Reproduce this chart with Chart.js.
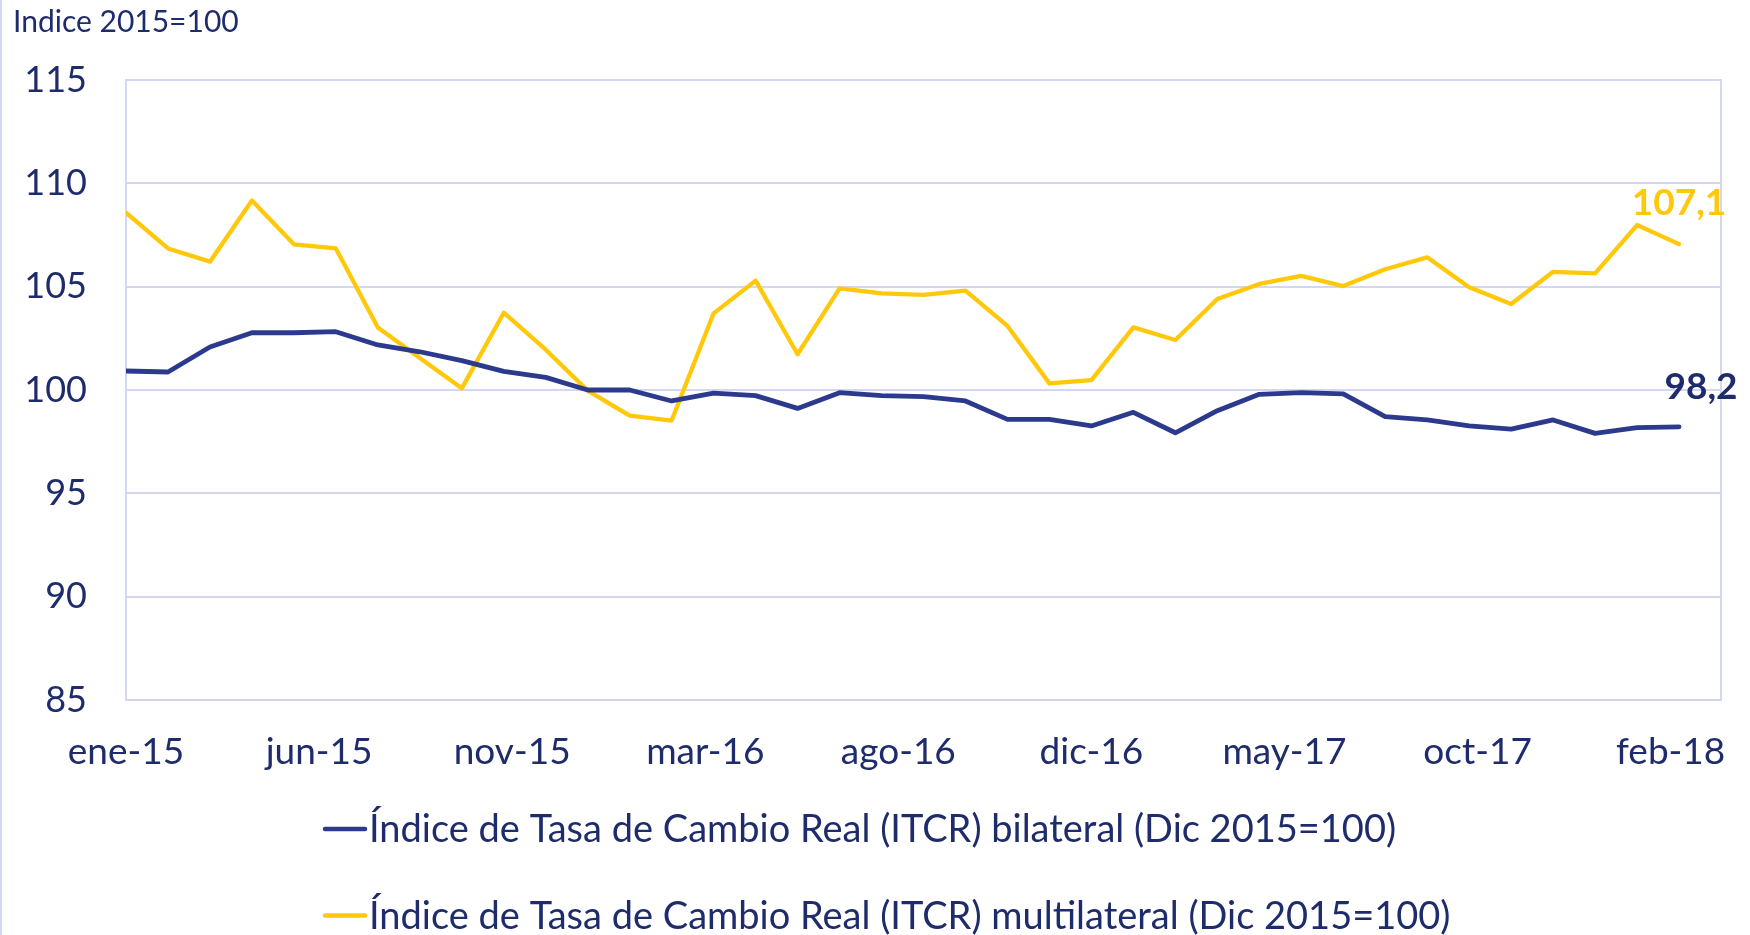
<!DOCTYPE html>
<html>
<head>
<meta charset="utf-8">
<script src="https://cdn.jsdelivr.net/npm/chart.js@4.4.1/dist/chart.umd.min.js"></script>
<style>
  html, body { margin: 0; padding: 0; background: #fff; }
  #wrap { position: relative; width: 1750px; height: 935px; }
</style>
</head>
<body>
<div id="wrap"><canvas id="chart"></canvas></div>
<script>
// monthly categories, ene-15 .. feb-18
const months = [
  'ene-15','feb-15','mar-15','abr-15','may-15','jun-15','jul-15','ago-15','sep-15','oct-15','nov-15','dic-15',
  'ene-16','feb-16','mar-16','abr-16','may-16','jun-16','jul-16','ago-16','sep-16','oct-16','nov-16','dic-16',
  'ene-17','feb-17','mar-17','abr-17','may-17','jun-17','jul-17','ago-17','sep-17','oct-17','nov-17','dic-17',
  'ene-18','feb-18'
];

const itcrBilateral = [
  100.92, 100.87, 102.08, 102.77, 102.77, 102.82, 102.18, 101.85, 101.42, 100.90, 100.61, 100.00,
  100.00, 99.47, 99.85, 99.73, 99.11, 99.87, 99.73, 99.68, 99.47, 98.58, 98.58, 98.26,
  98.92, 97.93, 99.00, 99.79, 99.87, 99.81, 98.71, 98.55, 98.26, 98.11, 98.55, 97.90,
  98.18, 98.22
];

const itcrMultilateral = [
  108.58, 106.85, 106.21, 109.17, 107.05, 106.85, 103.02, 101.55, 100.08, 103.74, 101.95, 99.97,
  98.76, 98.52, 103.71, 105.29, 101.73, 104.92, 104.68, 104.60, 104.81, 103.10, 100.32, 100.48,
  103.03, 102.42, 104.40, 105.13, 105.52, 105.03, 105.84, 106.42, 104.97, 104.16, 105.72, 105.64,
  107.98, 107.06
];

const seriesNames = [
  'Índice de Tasa de Cambio Real (ITCR) bilateral (Dic 2015=100)',
  'Índice de Tasa de Cambio Real (ITCR) multilateral (Dic 2015=100)'
];

const xTickLabels = ['ene-15','jun-15','nov-15','mar-16','ago-16','dic-16','may-17','oct-17','feb-18'];
const yTicks = [85, 90, 95, 100, 105, 110, 115];
const yTitle = 'Indice 2015=100';

const NAVY = '#1F2C6C';
const BLUE = '#2C3A8E';
const YELLOW = '#FFC80A';
const GRID = '#D3D7F2';
const FONT = 'Lato, "Open Sans", sans-serif';
const xTickStep = 4.6;

const toPoints = arr => arr.map((v, i) => ({ x: i, y: v }));

// title, plot frame, last-value labels and the legend
const extras = {
  id: 'extras',
  beforeDatasetsDraw(chart) {
    const { ctx, chartArea: a } = chart;
    ctx.save();
    ctx.strokeStyle = GRID;
    ctx.lineWidth = 2;
    ctx.strokeRect(a.left, a.top, a.right - a.left, a.bottom - a.top);
    ctx.beginPath();
    ctx.moveTo(1, 0);
    ctx.lineTo(1, chart.height);
    ctx.stroke();
    ctx.restore();
  },
  afterDatasetsDraw(chart) {
    const { ctx } = chart;
    ctx.save();
    ctx.font = 'bold 37px ' + FONT;
    ctx.textAlign = 'center';
    ctx.textBaseline = 'middle';
    const offsets = [[22, -40], [0, -41]];
    chart.data.datasets.forEach((ds, i) => {
      const meta = chart.getDatasetMeta(i);
      const last = meta.data[meta.data.length - 1];
      const v = ds.data[ds.data.length - 1].y;
      ctx.fillStyle = i === 0 ? NAVY : YELLOW;
      ctx.fillText(v.toFixed(1).replace('.', ','), last.x + offsets[i][0], last.y + offsets[i][1]);
    });
    ctx.restore();
  },
  afterDraw(chart) {
    const { ctx } = chart;
    ctx.save();
    ctx.fillStyle = NAVY;
    ctx.font = '30px ' + FONT;
    ctx.textAlign = 'left';
    ctx.textBaseline = 'middle';
    ctx.fillText(yTitle, 13, 22);

    ctx.font = '38px ' + FONT;
    chart.data.datasets.forEach((ds, i) => {
      const y = 829 + i * 86.5;
      ctx.strokeStyle = ds.borderColor;
      ctx.lineWidth = 4.5;
      ctx.lineCap = 'round';
      ctx.beginPath();
      ctx.moveTo(325, y);
      ctx.lineTo(365, y);
      ctx.stroke();
      ctx.fillStyle = NAVY;
      ctx.fillText(ds.label, 369, y + 1);
    });
    ctx.restore();
  }
};

new Chart(document.getElementById('chart'), {
  type: 'line',
  data: {
    labels: months,
    datasets: [
      {
        label: seriesNames[0],
        data: toPoints(itcrBilateral),
        borderColor: BLUE,
        borderWidth: 4.8,
        pointRadius: 0,
        tension: 0,
        borderJoinStyle: 'round',
        borderCapStyle: 'round'
      },
      {
        label: seriesNames[1],
        data: toPoints(itcrMultilateral),
        borderColor: YELLOW,
        borderWidth: 4.3,
        pointRadius: 0,
        tension: 0,
        borderJoinStyle: 'round',
        borderCapStyle: 'round'
      }
    ]
  },
  options: {
    responsive: true,
    maintainAspectRatio: false,
    animation: false,
    layout: { padding: { top: 80, right: 29, left: 0, bottom: 155 } },
    plugins: {
      legend: { display: false },
      tooltip: { enabled: false }
    },
    scales: {
      x: {
        type: 'linear',
        min: 0,
        max: 38,
        grid: { display: false, drawTicks: false },
        border: { display: false },
        afterBuildTicks: scale => {
          scale.ticks = xTickLabels.map((_, i) => ({ value: i * xTickStep }));
        },
        afterFit: scale => {
          scale.height = 80;
          scale.paddingLeft = 0;
          scale.paddingRight = 0;
        },
        ticks: {
          autoSkip: false,
          maxRotation: 0,
          padding: 30,
          color: NAVY,
          font: { family: FONT, size: 37 },
          callback: (v, i) => xTickLabels[i]
        }
      },
      y: {
        min: yTicks[0],
        max: yTicks[yTicks.length - 1],
        grid: { color: GRID, lineWidth: 2, drawTicks: false },
        border: { display: false },
        afterBuildTicks: scale => {
          scale.ticks = yTicks.map(v => ({ value: v }));
        },
        afterFit: scale => { scale.width = 126; },
        ticks: {
          padding: 39,
          color: NAVY,
          font: { family: FONT, size: 36 }
        }
      }
    }
  },
  plugins: [extras]
});
</script>
</body>
</html>
